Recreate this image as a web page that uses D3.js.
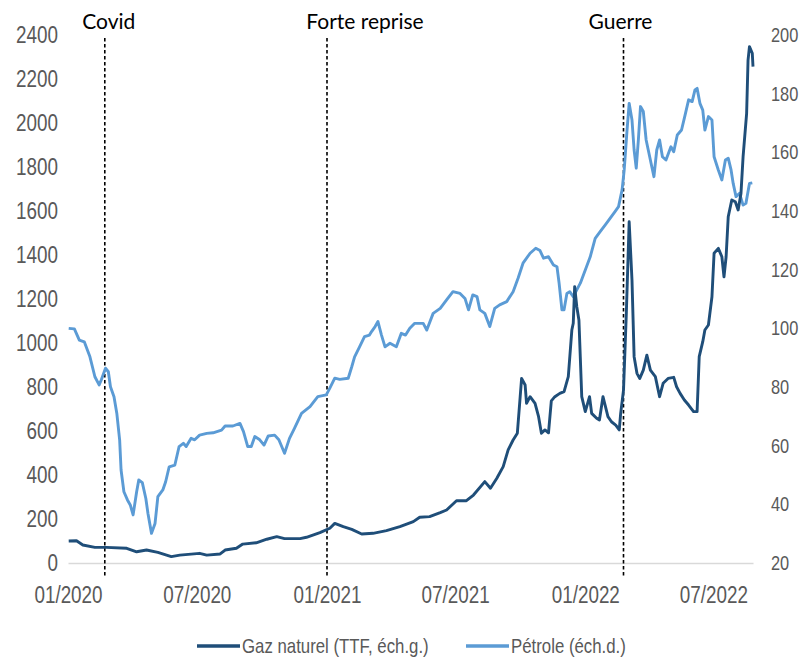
<!DOCTYPE html>
<html>
<head>
<meta charset="utf-8">
<script src="https://cdn.jsdelivr.net/npm/d3@7"></script>
<style>
  body { margin: 0; background: #fff; }
  .tick text { fill: #595959; font-family: "Liberation Sans", Arial, sans-serif; }
</style>
</head>
<body>
<svg id="chart" width="802" height="661"></svg>
<script>
// Natural gas (TTF), index base 100 = early January 2020 (left scale)
const gasDates = [
  "2020-01-02","2020-01-13","2020-01-22","2020-02-08","2020-02-24","2020-03-24","2020-04-07","2020-04-21",
  "2020-05-07","2020-05-26","2020-06-07","2020-07-05","2020-07-15","2020-08-03","2020-08-10","2020-08-26",
  "2020-09-04","2020-09-23","2020-10-08","2020-10-22","2020-11-02","2020-11-24","2020-12-03","2020-12-22",
  "2021-01-05","2021-01-12","2021-01-24","2021-02-05","2021-02-19","2021-03-07","2021-03-26","2021-04-14",
  "2021-05-03","2021-05-12","2021-05-26","2021-06-10","2021-06-19","2021-07-03","2021-07-17","2021-07-27",
  "2021-08-12","2021-08-20","2021-08-29","2021-09-07","2021-09-14","2021-09-21","2021-09-27","2021-10-01",
  "2021-10-03","2021-10-08","2021-10-10","2021-10-15","2021-10-22","2021-10-27","2021-10-31","2021-11-05",
  "2021-11-10","2021-11-14","2021-11-19","2021-11-26","2021-12-02","2021-12-08","2021-12-13","2021-12-15",
  "2021-12-17","2021-12-20","2021-12-23","2021-12-27","2022-01-01","2022-01-07","2022-01-10","2022-01-17",
  "2022-01-21","2022-01-26","2022-01-29","2022-02-02","2022-02-07","2022-02-13","2022-02-18","2022-02-20",
  "2022-02-24","2022-02-28","2022-03-04","2022-03-08","2022-03-11","2022-03-15","2022-03-19","2022-03-24",
  "2022-03-29","2022-04-03","2022-04-10","2022-04-16","2022-04-21","2022-04-28","2022-05-06","2022-05-10",
  "2022-05-15","2022-05-21","2022-05-27","2022-06-03","2022-06-08","2022-06-11","2022-06-16","2022-06-19",
  "2022-06-24","2022-06-29","2022-07-02","2022-07-08","2022-07-13","2022-07-16","2022-07-19","2022-07-22",
  "2022-07-27","2022-08-01","2022-08-05","2022-08-09","2022-08-12","2022-08-17","2022-08-19","2022-08-21",
  "2022-08-25","2022-08-26"
];
const gasValues = [
  100, 101, 82, 71, 71, 67, 51, 59,
  48, 29, 36, 44, 36, 41, 59, 67,
  86, 92, 108, 120, 111, 111, 117, 138,
  158, 180, 165, 153, 132, 135, 147, 165,
  188, 208, 211, 229, 241, 283, 283, 309,
  370, 340, 385, 438, 514, 559, 590, 756,
  839, 809, 726, 756, 726, 665, 590, 605,
  592, 737, 756, 771, 779, 847, 1059, 1090,
  1256, 1165, 1105, 756, 688, 756, 680, 658,
  650, 756, 718, 665, 642, 627, 605, 680,
  786, 1135, 1551, 1286, 938, 862, 839, 877,
  945, 877, 847, 756, 817, 839, 844, 801,
  771, 741, 718, 688, 688, 938, 1006, 1059,
  1082, 1210, 1408, 1430, 1392, 1301, 1392, 1574,
  1650, 1642, 1605, 1680, 1847, 2044, 2286, 2347,
  2317, 2256
];

// Oil, index base 100 = early January 2020 (right scale)
const oilDates = [
  "2020-01-02","2020-01-10","2020-01-17","2020-01-24","2020-02-01","2020-02-08","2020-02-14","2020-02-17",
  "2020-02-23","2020-02-27","2020-03-01","2020-03-06","2020-03-10","2020-03-14","2020-03-16","2020-03-20",
  "2020-03-25","2020-03-29","2020-04-02","2020-04-07","2020-04-10","2020-04-15","2020-04-20","2020-04-23",
  "2020-04-28","2020-05-03","2020-05-07","2020-05-14","2020-05-18","2020-05-23","2020-05-31","2020-06-06",
  "2020-06-12","2020-06-16","2020-06-23","2020-06-28","2020-07-05","2020-07-15","2020-07-24","2020-08-05",
  "2020-08-10","2020-08-21","2020-08-31","2020-09-05","2020-09-11","2020-09-16","2020-09-21","2020-09-28",
  "2020-10-04","2020-10-10","2020-10-19","2020-10-25","2020-11-02","2020-11-09","2020-11-16","2020-11-26",
  "2020-12-08","2020-12-19","2020-12-31","2021-01-05","2021-01-12","2021-01-19","2021-01-31","2021-02-05",
  "2021-02-09","2021-02-16","2021-02-23","2021-03-02","2021-03-05","2021-03-10","2021-03-14","2021-03-19",
  "2021-03-24","2021-03-31","2021-04-09","2021-04-16","2021-04-22","2021-04-28","2021-05-05","2021-05-17",
  "2021-05-22","2021-05-31","2021-06-10","2021-06-19","2021-06-28","2021-07-08","2021-07-15","2021-07-20",
  "2021-07-26","2021-08-01","2021-08-05","2021-08-12","2021-08-19","2021-08-26","2021-09-02","2021-09-12",
  "2021-09-21","2021-09-28","2021-10-05","2021-10-15","2021-10-23","2021-10-29","2021-11-03","2021-11-10",
  "2021-11-17","2021-11-22","2021-11-25","2021-11-29","2021-12-02","2021-12-06","2021-12-10","2021-12-15",
  "2021-12-20","2021-12-25","2022-01-01","2022-01-08","2022-01-15","2022-01-22","2022-01-29","2022-02-05",
  "2022-02-12","2022-02-17","2022-02-22","2022-02-25","2022-03-01","2022-03-04","2022-03-08","2022-03-11",
  "2022-03-14","2022-03-17","2022-03-20","2022-03-24","2022-03-28","2022-03-31","2022-04-05","2022-04-08",
  "2022-04-12","2022-04-16","2022-04-20","2022-04-25","2022-05-02","2022-05-06","2022-05-11","2022-05-17",
  "2022-05-22","2022-05-27","2022-06-01","2022-06-05","2022-06-08","2022-06-12","2022-06-16","2022-06-19",
  "2022-06-24","2022-06-29","2022-07-02","2022-07-08","2022-07-13","2022-07-18","2022-07-22","2022-07-26",
  "2022-07-29","2022-08-02","2022-08-07","2022-08-12","2022-08-16","2022-08-21","2022-08-25"
];
const oilValues = [
  100, 99.8, 96, 95.4, 90.3, 83.5, 80.7, 82.4,
  86.4, 85.2, 80.1, 76.7, 71, 61.9, 51.7, 44.3,
  41.5, 39.8, 36.4, 44.3, 48.3, 47.4, 42, 36.9,
  30.1, 33.5, 42.6, 44.9, 47.7, 52.8, 53.4, 59.7,
  60.8, 59.7, 62.5, 62, 63.6, 64.2, 64.4, 65.3,
  66.7, 66.7, 67.6, 64.8, 59.7, 59.7, 63.1, 62,
  60.2, 63.3, 63.6, 62, 57.4, 62.5, 65.9, 71,
  73.3, 76.7, 77.3, 79.6, 83, 82.6, 83, 86.9,
  90.3, 93.7, 97.2, 97.7, 98.9, 100.6, 102.3, 97.7,
  93.7, 94.9, 93.7, 98.3, 97.7, 100, 101.7, 101.7,
  99.4, 105.1, 106.8, 109.7, 112.5, 111.9, 110.2, 106.3,
  111.4, 110.8, 106.3, 105.1, 100.6, 106.8, 108, 109.1,
  112.5, 117.1, 122.2, 125.6, 127.3, 126.5, 123.9, 124.4,
  121.6, 121, 115.4, 106.3, 106.3, 111.9, 112.5, 110.8,
  113.1, 115.4, 119.9, 124.4, 130.7, 133, 135.2, 137.5,
  139.8, 141.5, 147.2, 154, 167.6, 176.7, 171, 160.8,
  154.6, 164.2, 175.6, 173.9, 164.2, 160.8, 155.1, 151.7,
  160.8, 164.2, 158.5, 157.4, 161.9, 160.2, 165.9, 167.6,
  172.7, 177.9, 177.3, 181.3, 181.8, 176.7, 174.4, 167.6,
  172.2, 171, 158.5, 154, 150.6, 157.4, 158, 154,
  149.4, 144.9, 146, 142, 142.6, 149.4, 149.6
];

const leftTicks = [0, 200, 400, 600, 800, 1000, 1200, 1400, 1600, 1800, 2000, 2200, 2400];
const rightTicks = [20, 40, 60, 80, 100, 120, 140, 160, 180, 200];
const xTickDates = ["2020-01-01", "2020-07-01", "2021-01-01", "2021-07-01", "2022-01-01", "2022-07-01"];
const eventDates = ["2020-02-22", "2021-01-01", "2022-02-24"];
const eventLabels = ["Covid", "Forte reprise", "Guerre"];
const seriesNames = ["Gaz naturel (TTF, éch.g.)", "Pétrole (éch.d.)"];

const gasColor = "#1f4e79";
const oilColor = "#5b9bd5";
const textGrey = "#595959";
const narrowX = 0.82; // horizontal squeeze for the condensed axis/legend lettering

const parse = d3.timeParse("%Y-%m-%d");
const gas = gasDates.map((d, i) => ({ date: parse(d), value: gasValues[i] }));
const oil = oilDates.map((d, i) => ({ date: parse(d), value: oilValues[i] }));

const svg = d3.select("#chart");

const plot = { left: 68, right: 753, top: 35, bottom: 563 };

const x = d3.scaleTime()
  .domain([parse("2020-01-01"), parse("2022-08-26")])
  .range([plot.left, plot.right]);
const yLeft = d3.scaleLinear().domain([0, 2400]).range([plot.bottom, plot.top]);
const yRight = d3.scaleLinear().domain([20, 200]).range([plot.bottom, plot.top]);

// squeeze tick labels horizontally around their own anchor
function condense(sel) {
  sel.each(function () {
    const t = d3.select(this);
    const x0 = +(t.attr("x") || 0);
    t.attr("x", x0 / narrowX).attr("transform", `scale(${narrowX},1)`);
  });
}

// Left axis (gas)
const gLeft = svg.append("g")
  .attr("transform", `translate(${plot.left},0)`)
  .call(d3.axisLeft(yLeft).tickValues(leftTicks).tickSize(0).tickPadding(10).tickFormat(d3.format("d")));
gLeft.select(".domain").remove();
gLeft.selectAll("text").style("font-size", "23px").call(condense);

// Right axis (oil)
const gRight = svg.append("g")
  .attr("transform", `translate(${plot.right},0)`)
  .call(d3.axisRight(yRight).tickValues(rightTicks).tickSize(0).tickPadding(18).tickFormat(d3.format("d")));
gRight.select(".domain").remove();
gRight.selectAll("text").style("font-size", "20px").call(condense);

// Bottom axis
const gBottom = svg.append("g")
  .attr("transform", `translate(0,${plot.bottom})`)
  .call(d3.axisBottom(x).tickValues(xTickDates.map(parse)).tickSize(0).tickPadding(24)
    .tickFormat(d3.timeFormat("%m/%Y")));
gBottom.select(".domain")
  .attr("stroke", "#d9d9d9")
  .attr("stroke-width", 1.5);
gBottom.selectAll("text").style("font-size", "23px").call(condense);

// Event markers
const labelDx = [4, 38, -3];
eventDates.forEach((d, i) => {
  const ex = x(parse(d));
  svg.append("line")
    .attr("x1", ex).attr("x2", ex)
    .attr("y1", 38).attr("y2", 577)
    .attr("stroke", "#000")
    .attr("stroke-width", 1.6)
    .attr("stroke-dasharray", "3.5,2.5");
  svg.append("text")
    .attr("x", ex + labelDx[i])
    .attr("y", 29)
    .attr("text-anchor", "middle")
    .style("font-family", "Lato, 'Open Sans', sans-serif")
    .style("font-size", "21px")
    .attr("fill", "#000")
    .text(eventLabels[i]);
});

// Series lines
const lineGas = d3.line().x(d => x(d.date)).y(d => yLeft(d.value));
const lineOil = d3.line().x(d => x(d.date)).y(d => yRight(d.value));

svg.append("path")
  .datum(oil)
  .attr("fill", "none")
  .attr("stroke", oilColor)
  .attr("stroke-width", 2.9)
  .attr("stroke-linejoin", "round")
  .attr("d", lineOil);

svg.append("path")
  .datum(gas)
  .attr("fill", "none")
  .attr("stroke", gasColor)
  .attr("stroke-width", 2.9)
  .attr("stroke-linejoin", "round")
  .attr("d", lineGas);

// Legend
const legendItems = [
  { name: seriesNames[0], color: gasColor, x: 197 },
  { name: seriesNames[1], color: oilColor, x: 466 }
];
const legend = svg.append("g").attr("transform", "translate(0,646)");
legendItems.forEach(item => {
  legend.append("line")
    .attr("x1", item.x).attr("x2", item.x + 43)
    .attr("y1", 0).attr("y2", 0)
    .attr("stroke", item.color)
    .attr("stroke-width", 3.5);
  legend.append("text")
    .attr("x", (item.x + 45) / narrowX)
    .attr("y", 0)
    .attr("dy", "0.35em")
    .attr("transform", `scale(${narrowX},1)`)
    .attr("fill", textGrey)
    .style("font-family", "'Liberation Sans', Arial, sans-serif")
    .style("font-size", "20.5px")
    .text(item.name);
});
</script>
</body>
</html>
